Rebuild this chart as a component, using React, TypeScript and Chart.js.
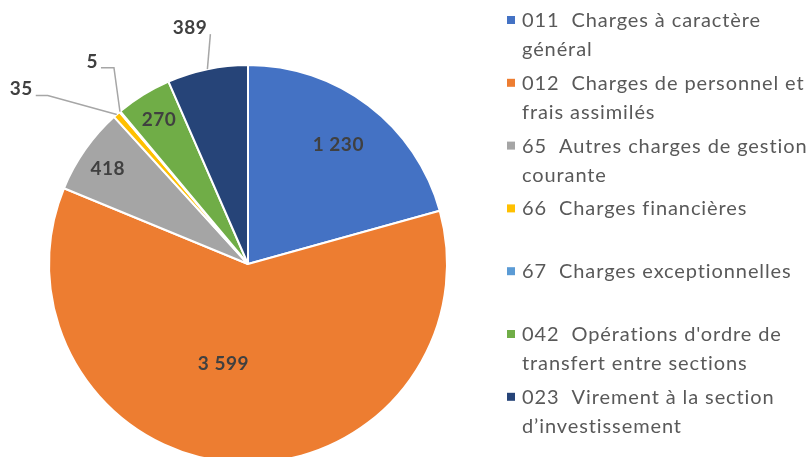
import React, { useEffect, useRef } from "react";
import { Chart, registerables } from "chart.js";

Chart.register(...registerables);

const categories: string[][] = [
  ["011  Charges à caractère", "général"],
  ["012  Charges de personnel et", "frais assimilés"],
  ["65  Autres charges de gestion", "courante"],
  ["66  Charges financières"],
  ["67  Charges exceptionnelles"],
  ["042  Opérations d'ordre de", "transfert entre sections"],
  ["023  Virement à la section", "d’investissement"],
];
const values: number[] = [1230, 3599, 418, 35, 5, 270, 389];
const colors: string[] = ["#4472C4", "#ED7D31", "#A5A5A5", "#FFC000", "#5B9BD5", "#70AD47", "#264478"];

// label placement styles per slice
type LabelStyle =
  | { kind: "in"; f: number; da: number }
  | { kind: "out"; dx: number; dy: number; tail: number };
const labelStyles: LabelStyle[] = [
  { kind: "in", f: 0.75, da: 0 },
  { kind: "in", f: 0.515, da: 10.5 },
  { kind: "in", f: 0.85, da: -1 },
  { kind: "out", dx: -69, dy: -19, tail: 12 },
  { kind: "out", dx: -6, dy: -44, tail: 13 },
  { kind: "in", f: 0.85, da: 0 },
  { kind: "out", dx: 3, dy: -35, tail: 0 },
];

const FONT = "Lato, 'Open Sans', sans-serif";

function fmt(n: number): string {
  const s = String(Math.round(n));
  return s.replace(/\B(?=(\d{3})+(?!\d))/g, " ");
}

const overlay = {
  id: "overlay",
  afterDatasetsDraw(chart: any) {
    const ctx: any = chart.ctx;
    const meta = chart.getDatasetMeta(0);
    ctx.save();
    // data labels
    meta.data.forEach((arc: any, i: number) => {
      const { x, y, startAngle, endAngle, outerRadius } = arc.getProps(
        ["x", "y", "startAngle", "endAngle", "outerRadius"],
        true
      );
      const mid = (startAngle + endAngle) / 2;
      const st = labelStyles[i];
      const text = fmt(values[i]);
      ctx.font = `bold 19px ${FONT}`;
      ctx.letterSpacing = "0.5px";
      ctx.fillStyle = "#404040";
      if (st.kind === "in") {
        const a = mid + (st.da * Math.PI) / 180;
        const r = outerRadius * st.f;
        ctx.textAlign = "center";
        ctx.textBaseline = "middle";
        ctx.fillText(text, x + Math.cos(a) * r, y + Math.sin(a) * r);
      } else {
        const ax = x + Math.cos(mid) * outerRadius;
        const ay = y + Math.sin(mid) * outerRadius;
        const ex = ax + st.dx;
        const ey = ay + st.dy;
        const tx = ex - st.tail;
        ctx.strokeStyle = "#A6A6A6";
        ctx.lineWidth = 1.5;
        ctx.beginPath();
        ctx.moveTo(ax, ay);
        ctx.lineTo(ex, ey);
        ctx.lineTo(tx, ey);
        ctx.stroke();
        ctx.textAlign = "right";
        ctx.textBaseline = "alphabetic";
        ctx.fillText(text, tx - 3, ey);
      }
    });
    // legend
    const legX = 507;
    const textX = 522;
    const firstBase = 27;
    const step = 62.8;
    const lineH = 29;
    ctx.font = `20px ${FONT}`;
    ctx.letterSpacing = "0.9px";
    ctx.textAlign = "left";
    ctx.textBaseline = "alphabetic";
    categories.forEach((lines, i) => {
      const base = firstBase + i * step;
      ctx.fillStyle = colors[i];
      ctx.fillRect(legX, base - 11, 8, 8);
      ctx.fillStyle = "#595959";
      lines.forEach((ln, k) => ctx.fillText(ln, textX, base + k * lineH));
    });
    ctx.restore();
  },
};

export default function App() {
  const ref = useRef<HTMLCanvasElement>(null);
  useEffect(() => {
    if (!ref.current) return;
    const chart = new Chart(ref.current, {
      type: "pie",
      data: {
        labels: categories.map((l) => l.join(" ")),
        datasets: [
          {
            data: values,
            backgroundColor: colors,
            borderColor: "#FFFFFF",
            borderWidth: 2,
          },
        ],
      },
      options: {
        responsive: false,
        animation: false,
        layout: { padding: { left: 48, top: 64, right: 364, bottom: 66 } },
        plugins: { legend: { display: false }, tooltip: { enabled: false } },
      },
      plugins: [overlay],
    });
    return () => chart.destroy();
  }, []);
  return (
    <div
      style={{
        position: "fixed",
        left: 0,
        top: 0,
        width: 812,
        height: 457,
        overflow: "hidden",
        background: "#fff",
      }}
    >
      <canvas ref={ref} width={812} height={530} style={{ width: 812, height: 530, display: "block" }} />
    </div>
  );
}
